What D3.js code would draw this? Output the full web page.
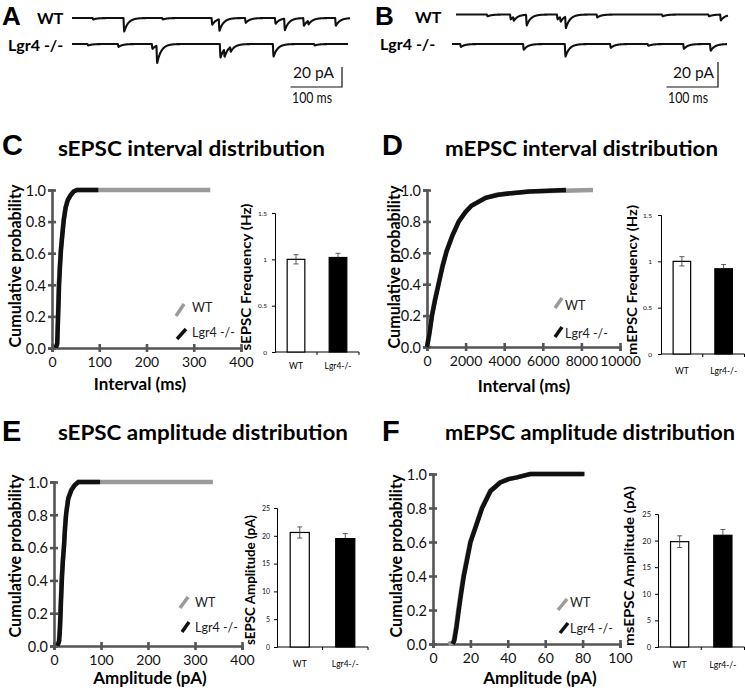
<!DOCTYPE html>
<html><head><meta charset="utf-8">
<script src="https://cdn.jsdelivr.net/npm/d3@7/dist/d3.min.js"></script>
<style>
html,body{margin:0;padding:0;background:#fff;}
svg{display:block;}
</style></head>
<body>
<svg id="fig" width="745" height="692"></svg>
<script>
// ================= DATA =================
const groups = ["WT", "Lgr4-/-"];
const legendLabels = ["WT", "Lgr4 -/-"];
const traceLabels = ["WT", "Lgr4 -/-"];
const panelLetters = ["A", "B", "C", "D", "E", "F"];
const panelTitles = ["sEPSC interval distribution", "mEPSC interval distribution",
                     "sEPSC amplitude distribution", "mEPSC amplitude distribution"];
const cumYLabel = "Cumulative probability";
const cumXLabels = ["Interval (ms)", "Interval (ms)", "Amplitude (pA)", "Amplitude (pA)"];
const barYLabels = ["sEPSC Frequency  (Hz)", "mEPSC Frequency  (Hz)", "sEPSC Amplitude (pA)", "msEPSC Amplitude (pA)"];
const scaleBarValues = [100, 20];            // ms, pA
const scaleBarLabels = ["100 ms", "20 pA"];

// example traces: synaptic events [time (ms), amplitude (pA)], recording length (ms)
const eventsA_WT = [[40, 1.5], [100, 14], [175, 1.5], [271, 7], [285, 12], [336, 5], [394, 6], [412, 12], [449, 8], [458, 4], [511, 8]];
const eventsA_KO = [[30, 1.5], [89, 3], [155, 5], [164, 18], [287, 14], [295, 8], [307, 5], [390, 13], [470, 1.5]];
const eventsB_WT = [[60, 1.5], [105, 4], [111, 3.2], [136, 8.8], [196, 4], [202, 4], [212, 9.6], [273, 2.4], [400, 1.5], [490, 1.5], [513, 4.8]];
const eventsB_KO = [[16, 2.4], [138, 4.8], [219, 10.4], [307, 3.2], [380, 1.5], [449, 4], [501, 5.6]];
const traceDurations = [540, 536, 528, 534];

// cumulative distributions [value, cumulative probability]
const sIntervalWT = [[7,0],[11,0.02],[12,0.1],[13,0.25],[14,0.38],[16,0.5],[18,0.6],[21,0.7],[24,0.8],[28,0.88],[32,0.93],[38,0.96],[45,0.99],[52,1.0],[335,1.0]];
const sIntervalKO = [[8,0],[11,0.03],[12,0.12],[14,0.3],[15,0.4],[17,0.52],[19,0.62],[22,0.72],[25,0.81],[29,0.89],[34,0.94],[40,0.97],[46,0.99],[53,1.0],[98,1.0]];
const mIntervalWT = [[0,0],[100,0.08],[250,0.2],[400,0.3],[600,0.41],[800,0.52],[1000,0.61],[1300,0.71],[1650,0.8],[2000,0.86],[2300,0.9],[3000,0.95],[3600,0.97],[4300,0.98],[5300,0.99],[7000,0.995],[8600,1.0]];
const mIntervalKO = [[0,0],[120,0.08],[260,0.2],[420,0.3],[620,0.41],[820,0.52],[1020,0.61],[1320,0.71],[1650,0.8],[2000,0.86],[2300,0.9],[3050,0.95],[3700,0.97],[4400,0.98],[5300,0.99],[7200,1.0]];
const sAmpWT = [[6,0],[10,0.02],[12,0.1],[14,0.25],[16,0.4],[18,0.5],[21,0.6],[23,0.7],[25.5,0.8],[30,0.9],[36,0.95],[43,0.98],[51,1.0],[338,1.0]];
const sAmpKO = [[7,0],[11,0.03],[13,0.12],[15,0.28],[17,0.42],[19,0.52],[21.5,0.62],[23.5,0.72],[26,0.81],[30.5,0.9],[37,0.95],[44,0.98],[52,1.0],[98,1.0]];
const mAmpWT = [[8.2,0],[10.9,0.01],[12.3,0.1],[13.5,0.2],[14.8,0.3],[16.2,0.4],[18,0.5],[19.8,0.6],[23,0.7],[26,0.8],[30.5,0.9],[35.8,0.95],[40,0.97],[44.7,0.98],[52,1.0],[80,1.0]];
const mAmpKO = [[10.5,0],[11.4,0.02],[12.6,0.1],[13.8,0.2],[15.1,0.3],[16.5,0.4],[18.3,0.5],[20.1,0.6],[23.2,0.7],[26.3,0.8],[30.8,0.9],[36,0.95],[40.5,0.97],[45,0.98],[52,1.0],[81,1.0]];

// bar charts: means and SEM, [WT, Lgr4-/-]
const sFreqMean = [1.00, 1.02], sFreqErr = [0.05, 0.045];
const mFreqMean = [1.00, 0.92], mFreqErr = [0.05, 0.045];
const sAmpMean  = [20.6, 19.5], sAmpErr  = [1.0, 0.9];
const mAmpMean  = [19.8, 21.0], mAmpErr  = [1.1, 1.1];

// tick values
const probTicks = [0, 0.2, 0.4, 0.6, 0.8, 1.0];
const sIntervalTicks = [0, 100, 200, 300, 400];
const mIntervalTicks = [0, 2000, 4000, 6000, 8000, 10000];
const sAmpTicks = [0, 100, 200, 300, 400];
const mAmpTicks = [0, 20, 40, 60, 80, 100];
const freqTicks = [0, 0.5, 1, 1.5];
const ampBarTicks = [0, 5, 10, 15, 20, 25];

// ================= DRAWING =================
const svg = d3.select("#fig");
const FONT = "Lato, 'Open Sans', sans-serif";
const GRAY = "#9a9a9a", BLACK = "#111", AXIS = "#555";

function txt(x, y, s, o = {}) {
  const t = svg.append("text").attr("x", x).attr("y", y).text(s)
    .attr("font-family", o.family || FONT).attr("font-size", o.size || 12)
    .attr("font-weight", o.weight || "normal").attr("fill", o.fill || "#111")
    .attr("text-anchor", o.anchor || "start");
  if (o.len) t.attr("textLength", o.len).attr("lengthAdjust", "spacingAndGlyphs");
  if (o.rotate) t.attr("transform", `rotate(-90 ${x} ${y})`);
  return t;
}

// panel letters
const letterPos = [[2, 25, 26], [375, 25, 26], [2, 155, 29], [382, 155, 29], [2, 441, 29], [382, 441, 29]];
panelLetters.forEach((L, i) => txt(letterPos[i][0], letterPos[i][1], L,
  {family: "'Liberation Sans', Arial, sans-serif", size: letterPos[i][2], weight: "bold", fill: "#000"}));

// ---------- traces ----------
const tx = d3.scaleLinear().domain([0, 100]).range([0, 51.5]);
const tyA = d3.scaleLinear().domain([0, 20]).range([0, 20]);
const tyB = d3.scaleLinear().domain([0, 20]).range([0, 25]);
const traceLayout = [
  {ev: eventsA_WT, dur: traceDurations[0], x0: 72, y0: 18, ty: tyA},
  {ev: eventsA_KO, dur: traceDurations[1], x0: 72, y0: 44, ty: tyA},
  {ev: eventsB_WT, dur: traceDurations[2], x0: 456, y0: 14.5, ty: tyB},
  {ev: eventsB_KO, dur: traceDurations[3], x0: 452, y0: 44, ty: tyB}
];
function traceSignal(events, dur) {
  const pts = [];
  for (let t = 0; t <= dur; t += 0.5) {
    let v = 0;
    events.forEach(([t0, a]) => {
      const dt = t - t0;
      if (dt >= 0) v -= dt < 1.2 ? a * dt / 1.2 : a * Math.exp(-(dt - 1.2) / 8);
    });
    pts.push([t, v]);
  }
  return pts;
}
traceLayout.forEach(tr => {
  const line = d3.line().x(d => tr.x0 + tx(d[0])).y(d => tr.y0 - tr.ty(d[1]));
  svg.append("path").attr("d", line(traceSignal(tr.ev, tr.dur)))
    .attr("fill", "none").attr("stroke", "#111").attr("stroke-width", 2.1).attr("stroke-linejoin", "round");
});
// trace labels
txt(37, 24, traceLabels[0], {size: 16, weight: "bold", fill: "#000"});
txt(8, 51, traceLabels[1], {size: 16, weight: "bold", fill: "#000"});
txt(415, 23, traceLabels[0], {size: 16, weight: "bold", fill: "#000"});
txt(380, 50, traceLabels[1], {size: 16, weight: "bold", fill: "#000"});
// scale bars
[[342, 87, tyA, 293, 292], [718, 87, tyB, 673, 668]].forEach(([ax, ay, ty, x20, x100]) => {
  svg.append("path")
    .attr("d", `M${ax - tx(scaleBarValues[0])},${ay}H${ax}V${ay - ty(scaleBarValues[1])}`)
    .attr("fill", "none").attr("stroke", "#111").attr("stroke-width", 1.2);
  txt(x20, 78, scaleBarLabels[1], {size: 15, len: 41});
  txt(x100, 103, scaleBarLabels[0], {size: 15, len: 40});
});

// ---------- titles ----------
const titleLayout = [[58, 156, 267], [445, 156, 273], [58, 440, 290], [445, 440, 290]];
panelTitles.forEach((s, i) => txt(titleLayout[i][0], titleLayout[i][1], s,
  {size: 21, weight: "bold", fill: "#000", len: titleLayout[i][2]}));

// ---------- cumulative plots ----------
const cumLayout = [
  {l: 52, r: 241, t: 190, b: 348, xmax: 400, xt: sIntervalTicks, wt: sIntervalWT, ko: sIntervalKO,
   yl: [21, 266], xl: [140, 390], leg: [[176,316,184,304],[177,339,186,329],[192,312],[192,337]]},
  {l: 427, r: 620, t: 190, b: 347, xmax: 10000, xt: mIntervalTicks, wt: mIntervalWT, ko: mIntervalKO,
   yl: [400, 267], xl: [524, 392], leg: [[555,308,562,298],[555,337,562,327],[565,310],[565,338]]},
  {l: 54, r: 242, t: 482, b: 646, xmax: 400, xt: sAmpTicks, wt: sAmpWT, ko: sAmpKO,
   yl: [21, 556], xl: [150, 684], leg: [[180,608,188,597],[182,632,189,622],[195,607],[195,632]]},
  {l: 433, r: 620, t: 474, b: 644, xmax: 100, xt: mAmpTicks, wt: mAmpWT, ko: mAmpKO,
   yl: [402, 556], xl: [540, 684], leg: [[558,610,567,599],[560,633,568,623],[570,607],[570,633]]}
];
cumLayout.forEach((c, i) => {
  const x = d3.scaleLinear().domain([0, c.xmax]).range([c.l, c.r]);
  const y = d3.scaleLinear().domain([0, 1]).range([c.b, c.t]);
  const ya = svg.append("g").attr("transform", `translate(${c.l},0)`)
    .call(d3.axisLeft(y).tickValues(probTicks).tickFormat(d3.format(".1f")).tickSizeOuter(0).tickSize(4).tickPadding(2));
  ya.selectAll(".tick line").attr("x1", 4);
  const xa = svg.append("g").attr("transform", `translate(0,${c.b})`)
    .call(d3.axisBottom(x).tickValues(c.xt).tickFormat(d3.format("d")).tickSizeOuter(0).tickSize(4));
  xa.selectAll(".tick line").attr("y1", -4);
  [ya, xa].forEach(a => {
    a.select(".domain").attr("stroke", AXIS).attr("stroke-width", 2.6);
    a.selectAll(".tick line").attr("stroke", AXIS).attr("stroke-width", 2.6);
    a.selectAll(".tick text").attr("font-family", FONT).attr("fill", "#111");
  });
  ya.selectAll(".tick text").attr("font-size", 14.5).attr("dy", "0.36em");
  xa.selectAll(".tick text").attr("font-size", 14).attr("y", 19).attr("dy", 0);
  const line = d3.line().x(d => x(d[0])).y(d => y(d[1]));
  svg.append("path").attr("d", line(c.wt)).attr("fill", "none").attr("stroke", GRAY).attr("stroke-width", 4.5);
  svg.append("path").attr("d", line(c.ko)).attr("fill", "none").attr("stroke", BLACK).attr("stroke-width", 4.5);
  // legend
  const [g1, b1, tw, tk] = c.leg;
  svg.append("line").attr("x1", g1[0]).attr("y1", g1[1]).attr("x2", g1[2]).attr("y2", g1[3])
    .attr("stroke", GRAY).attr("stroke-width", 3.5);
  svg.append("line").attr("x1", b1[0]).attr("y1", b1[1]).attr("x2", b1[2]).attr("y2", b1[3])
    .attr("stroke", BLACK).attr("stroke-width", 3.5);
  txt(tw[0], tw[1], legendLabels[0], {size: 12.5, fill: "#222"});
  txt(tk[0], tk[1], legendLabels[1], {size: 12.5, fill: "#222"});
  // axis labels
  txt(c.xl[0], c.xl[1], cumXLabels[i], {size: 17, weight: "bold", anchor: "middle", fill: "#000"});
  txt(c.yl[0], c.yl[1], cumYLabel, {size: 17, weight: "bold", anchor: "middle", fill: "#000", rotate: true, len: 163});
});

// ---------- bar charts ----------
const barLayout = [
  {l: 275, r: 359, t: 213, b: 352, ticks: freqTicks, mean: sFreqMean, err: sFreqErr,
   tf: 6.5, tpad: 5, yl: [251, 277, 147], xlb: 369},
  {l: 661, r: 744.5, t: 215, b: 354, ticks: freqTicks, mean: mFreqMean, err: mFreqErr,
   tf: 6.5, tpad: 6, yl: [637, 280, 150], xlb: 374},
  {l: 277, r: 368, t: 508, b: 647, ticks: ampBarTicks, mean: sAmpMean, err: sAmpErr,
   tf: 7, tpad: 4, yl: [255, 580, 130], xlb: 667},
  {l: 658, r: 744.5, t: 514, b: 647, ticks: ampBarTicks, mean: mAmpMean, err: mAmpErr,
   tf: 7.5, tpad: 4, yl: [634, 566, 160], xlb: 668}
];
barLayout.forEach((c, i) => {
  const y = d3.scaleLinear().domain([0, c.ticks[c.ticks.length - 1]]).range([c.b, c.t]);
  const x = d3.scaleBand().domain(groups).range([c.l, c.r]);
  const ya = svg.append("g").attr("transform", `translate(${c.l},0)`)
    .call(d3.axisLeft(y).tickValues(c.ticks).tickFormat(d => String(d)).tickSizeOuter(0).tickSize(3).tickPadding(c.tpad));
  ya.select(".domain").attr("stroke", "#000").attr("stroke-width", 1);
  ya.selectAll(".tick line").attr("stroke", "#000").attr("stroke-width", 1);
  ya.selectAll(".tick text").attr("font-family", FONT).attr("font-size", c.tf).attr("fill", "#111");
  svg.append("line").attr("x1", c.l).attr("x2", c.r).attr("y1", c.b).attr("y2", c.b)
    .attr("stroke", "#000").attr("stroke-width", 1);
  groups.forEach(g => {
    const bx = x(g) + x.bandwidth();
    svg.append("line").attr("x1", bx).attr("x2", bx).attr("y1", c.b).attr("y2", c.b + 3)
      .attr("stroke", "#000").attr("stroke-width", 1);
  });
  const bw = x.bandwidth() * 0.42;
  groups.forEach((g, j) => {
    const cx = x(g) + x.bandwidth() / 2;
    svg.append("rect").attr("x", cx - bw / 2).attr("y", y(c.mean[j]))
      .attr("width", bw).attr("height", y(0) - y(c.mean[j]))
      .attr("fill", j === 0 ? "#fff" : "#000").attr("stroke", "#000").attr("stroke-width", 1.2);
    const e0 = y(c.mean[j] - c.err[j]), e1 = y(c.mean[j] + c.err[j]);
    svg.append("path").attr("d", `M${cx},${j === 0 ? e0 : y(c.mean[j])}V${e1}M${cx - 2.5},${e1}H${cx + 2.5}` + (j === 0 ? `M${cx - 2.5},${e0}H${cx + 2.5}` : ""))
      .attr("fill", "none").attr("stroke", "#333").attr("stroke-width", 0.8);
    txt(cx, c.xlb, groups[j], {size: 8.5, anchor: "middle", fill: "#000"});
  });
  txt(c.yl[0], c.yl[1], barYLabels[i], {size: 14, weight: "bold", anchor: "middle", fill: "#000", rotate: true, len: c.yl[2]});
});
</script>
</body></html>
